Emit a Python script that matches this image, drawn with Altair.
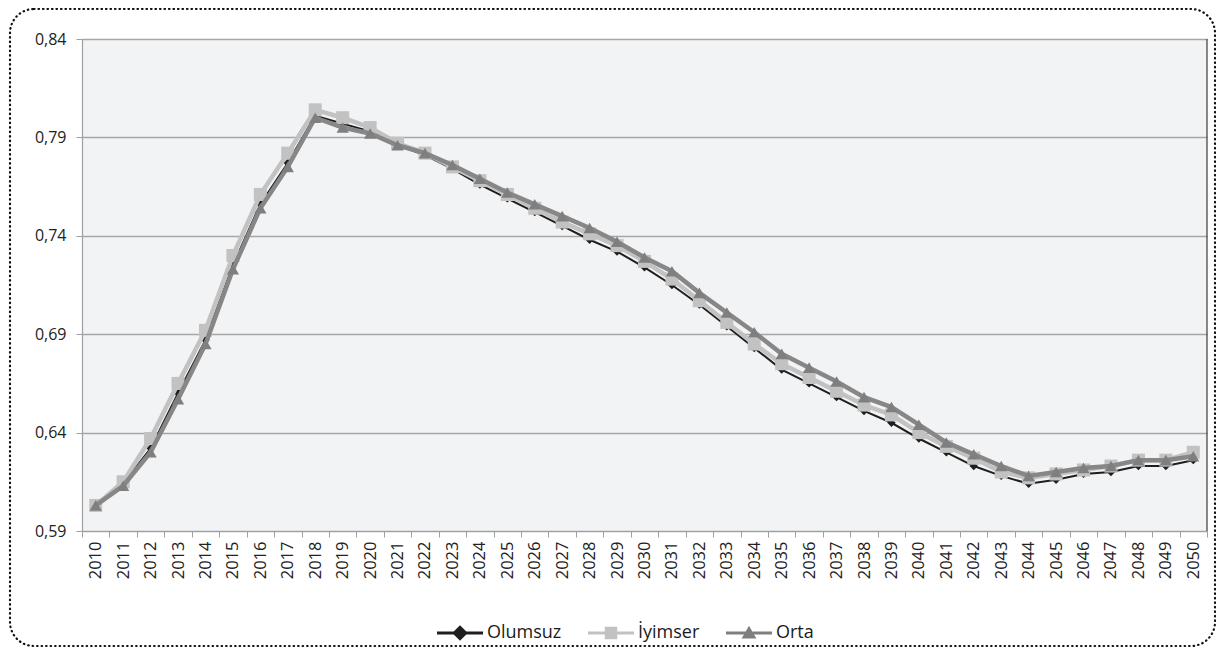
import altair as alt
import pandas as pd

years = [str(y) for y in range(2010, 2051)]

olumsuz = [0.603, 0.614, 0.632, 0.660, 0.687, 0.725, 0.756, 0.777, 0.801, 0.797,
           0.793, 0.786, 0.781, 0.774, 0.766, 0.759, 0.752, 0.745, 0.738, 0.732,
           0.724, 0.715, 0.705, 0.694, 0.683, 0.672, 0.665, 0.658, 0.651, 0.645,
           0.637, 0.630, 0.623, 0.618, 0.614, 0.616, 0.619, 0.620, 0.623, 0.623,
           0.626]
iyimser = [0.603, 0.615, 0.637, 0.665, 0.692, 0.730, 0.761, 0.782, 0.804, 0.800,
           0.795, 0.787, 0.782, 0.775, 0.768, 0.761, 0.754, 0.747, 0.741, 0.735,
           0.727, 0.718, 0.707, 0.696, 0.685, 0.675, 0.668, 0.661, 0.654, 0.649,
           0.640, 0.633, 0.627, 0.620, 0.617, 0.619, 0.621, 0.623, 0.626, 0.626,
           0.630]
orta = [0.603, 0.613, 0.630, 0.657, 0.685, 0.723, 0.754, 0.775, 0.800, 0.795,
        0.792, 0.786, 0.782, 0.776, 0.769, 0.762, 0.756, 0.750, 0.744, 0.737,
        0.729, 0.722, 0.711, 0.701, 0.691, 0.680, 0.673, 0.666, 0.658, 0.653,
        0.644, 0.635, 0.629, 0.623, 0.618, 0.620, 0.622, 0.623, 0.626, 0.626,
        0.628]

series_names = ["Olumsuz", "İyimser", "Orta"]
series_values = [olumsuz, iyimser, orta]
y_ticks = [0.59, 0.64, 0.69, 0.74, 0.79, 0.84]

line_colors = ["#1E1E1E", "#C2C2C2", "#878787"]
marker_colors = ["#1E1E1E", "#C2C2C2", "#7F7F7F"]
line_widths = [2, 4.5, 4.5]
marker_shapes = ["diamond", "square", "triangle-up"]
marker_sizes = [70, 170, 150]
legend_paths = [
    "M-1,-0.065H1V0.065H-1Z M0,-0.34L0.34,0L0,0.34L-0.34,0Z",
    "M-1,-0.065H1V0.065H-1Z M-0.27,-0.27H0.27V0.27H-0.27Z",
    "M-1,-0.065H1V0.065H-1Z M0,-0.32L0.32,0.24H-0.32Z",
]

rows = []
for name, vals in zip(series_names, series_values):
    for yr, v in zip(years, vals):
        rows.append({"Yil": yr, "Deger": v, "Seri": name})
df = pd.DataFrame(rows)

FONT = "Open Sans"
W, H = 1125, 492

x_enc = alt.X(
    "Yil:O",
    sort=years,
    scale=alt.Scale(type="band", domain=years, paddingInner=0, paddingOuter=0),
    axis=alt.Axis(
        title=None, labelAngle=-90, tickBand="extent", ticks=True, tickSize=6,
        tickColor="#A0A0A0", domainColor="#A0A0A0", domainWidth=1.2,
        labelFont=FONT, labelFontSize=16.5, labelColor="#222222", labelPadding=4,
        grid=False,
    ),
)
y_enc = alt.Y(
    "Deger:Q",
    scale=alt.Scale(domain=[0.59, 0.84], nice=False, zero=False),
    axis=alt.Axis(
        title=None, values=y_ticks,
        labelExpr="replace(format(datum.value, '.2f'), '.', ',')",
        grid=True, gridColor="#A6A6A6", gridWidth=1.3,
        tickSize=6, tickColor="#A0A0A0", domainColor="#A0A0A0", domainWidth=1.2,
        labelFont=FONT, labelFontSize=16, labelColor="#222222", labelPadding=10,
    ),
)

base = alt.Chart(df)

layers = []
# outer dotted rounded frame
frame = alt.Chart(pd.DataFrame({"k": [0]})).mark_rect(
    filled=False, stroke="#111111", strokeWidth=2.2, strokeDash=[0.5, 4],
    strokeCap="round", cornerRadius=24,
).encode(x=alt.value(-72), x2=alt.value(1133), y=alt.value(-30), y2=alt.value(607))
layers.append(frame)

# right border of the plot area
right_border = alt.Chart(pd.DataFrame({"k": [0]})).mark_rule(
    color="#3A3A3A", strokeWidth=1.2
).encode(x=alt.value(W), y=alt.value(0), y2=alt.value(H))

for i, name in enumerate(series_names):
    sub = base.transform_filter(alt.datum.Seri == name)
    line = sub.mark_line(color=line_colors[i], strokeWidth=line_widths[i]).encode(
        x=x_enc, y=y_enc, order="Yil:O"
    )
    pts = sub.mark_point(
        filled=True, opacity=1, color=marker_colors[i],
        shape=marker_shapes[i], size=marker_sizes[i],
    ).encode(x=x_enc, y=y_enc)
    layers += [line, pts]

legend_props = dict(
    title=None, orient="none", legendX=355, legendY=571,
    direction="horizontal", symbolSize=2116, symbolOpacity=1,
    symbolStrokeWidth=0, labelFont=FONT, labelFontSize=18,
    labelColor="#1A1A1A", labelOffset=4, columnPadding=26,
)
legend_layer = base.mark_point(filled=True, opacity=0).encode(
    x=x_enc, y=y_enc,
    color=alt.Color(
        "Seri:N",
        scale=alt.Scale(domain=series_names, range=marker_colors),
        legend=alt.Legend(**legend_props),
    ),
    shape=alt.Shape(
        "Seri:N",
        scale=alt.Scale(domain=series_names, range=legend_paths),
        legend=alt.Legend(**legend_props),
    ),
)
layers.append(legend_layer)
layers.append(right_border)

chart = alt.layer(*layers).properties(
    width=W, height=H,
    autosize=alt.AutoSizeParams(type="none"),
    padding={"left": 74, "top": 31, "right": 9, "bottom": 117},
    background="white",
).configure_view(fill="#F2F3F5", stroke=None)

chart.save("out.html", embed_options={"renderer": "svg", "actions": False})
